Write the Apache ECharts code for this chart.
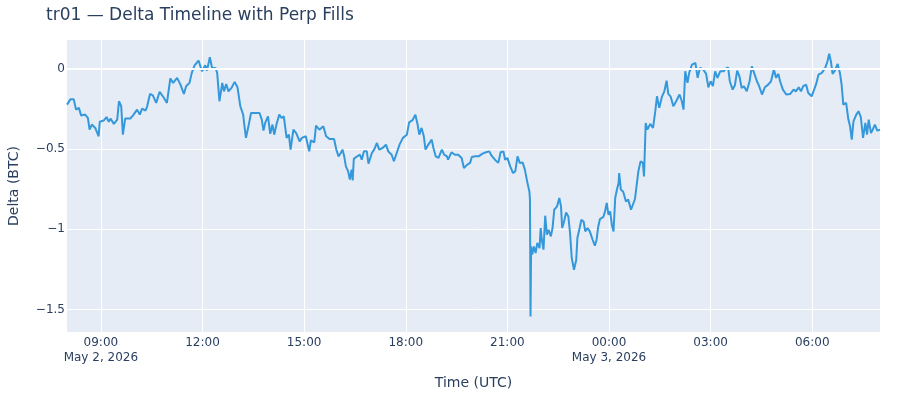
<!DOCTYPE html>
<html><head><meta charset="utf-8">
<script src="https://cdn.jsdelivr.net/npm/echarts@6/dist/echarts.min.js"></script>
<style>html,body{margin:0;padding:0;background:#fff}#c{width:900px;height:400px}</style>
</head><body><div id="c"></div>
<script>
// Start of series: 2026-05-02 08:00 UTC; minutes are offsets from it
const startUTC = Date.UTC(2026, 4, 2, 8, 0);
const minutes = [
0,6,12,16,21,25,32,37,40,44,
50,56,58,65,70,74,77,83,89,92,
96,99,102,103,112,118,124,129,133,139,
142,147,152,158,164,171,177,180,183,188,
195,201,207,211,217,221,226,233,239,245,
248,253,257,263,266,270,275,278,282,286,
292,297,302,307,312,314,317,322,326,334,
341,345,348,351,356,360,364,367,371,376,
380,384,389,393,396,401,406,412,416,423,
429,432,438,441,447,454,459,465,473,477,
481,485,488,491,494,498,501,504,506,508,
514,519,522,526,531,534,540,544,549,553,
559,565,569,575,579,584,589,595,602,606,
612,617,621,624,628,632,635,640,646,649,
653,658,664,668,673,675,681,687,693,699,
703,709,714,717,723,729,736,742,748,752,
758,764,768,773,776,780,785,790,794,798,
802,807,811,815,819,820,821,822,824,827,
830,833,837,839,841,844,847,850,853,857,
860,863,868,872,875,877,880,884,888,891,
894,898,902,904,908,911,915,918,922,926,
931,935,938,941,944,950,953,956,959,962,
965,968,971,974,977,978,981,985,990,994,
999,1002,1006,1009,1012,1016,1020,1022,1024,1025,
1028,1033,1038,1042,1045,1049,1054,1058,1062,1065,
1069,1074,1079,1085,1089,1092,1095,1099,1102,1107,
1113,1117,1121,1127,1132,1136,1140,1144,1148,1152,
1157,1163,1167,1171,1174,1179,1183,1187,1191,1195,
1199,1204,1209,1213,1217,1222,1226,1231,1236,1242,
1247,1250,1252,1256,1260,1263,1268,1274,1281,1287,
1291,1296,1300,1304,1309,1313,1319,1322,1327,1331,
1337,1343,1347,1350,1353,1356,1360,1365,1369,1372,
1375,1380,1384,1387,1390,1393,1398,1402,1406,1410,
1414,1417,1420,1424,1427,1431,1435,1440
];
const delta = [
-0.223,-0.19,-0.19,-0.254,-0.243,-0.29,-0.285,-0.306,-0.379,-0.347,
-0.368,-0.42,-0.33,-0.322,-0.30,-0.33,-0.31,-0.343,-0.316,-0.202,
-0.233,-0.41,-0.42,-0.31,-0.31,-0.285,-0.254,-0.285,-0.248,-0.26,
-0.233,-0.156,-0.165,-0.212,-0.143,-0.177,-0.212,-0.202,-0.06,-0.087,
-0.056,-0.098,-0.156,-0.108,-0.087,-0.025,0.022,0.052,-0.015,0.022,
-0.011,0.072,0.006,0.006,-0.025,-0.202,-0.087,-0.14,-0.094,-0.14,
-0.115,-0.081,-0.115,-0.233,-0.285,-0.347,-0.43,-0.347,-0.275,-0.275,
-0.275,-0.316,-0.385,-0.337,-0.296,-0.405,-0.347,-0.41,-0.347,-0.285,
-0.306,-0.296,-0.43,-0.41,-0.503,-0.379,-0.40,-0.452,-0.43,-0.42,
-0.514,-0.445,-0.458,-0.354,-0.379,-0.358,-0.42,-0.437,-0.437,-0.503,
-0.545,-0.524,-0.503,-0.545,-0.608,-0.639,-0.69,-0.628,-0.695,-0.561,
-0.545,-0.535,-0.566,-0.514,-0.514,-0.591,-0.524,-0.503,-0.462,-0.503,
-0.493,-0.472,-0.514,-0.535,-0.576,-0.524,-0.472,-0.43,-0.41,-0.333,
-0.32,-0.285,-0.347,-0.41,-0.368,-0.42,-0.503,-0.472,-0.441,-0.493,
-0.545,-0.555,-0.503,-0.535,-0.545,-0.566,-0.52,-0.535,-0.535,-0.555,
-0.618,-0.597,-0.586,-0.549,-0.545,-0.545,-0.528,-0.52,-0.514,-0.541,
-0.566,-0.586,-0.52,-0.514,-0.566,-0.555,-0.608,-0.649,-0.639,-0.545,
-0.586,-0.583,-0.628,-0.701,-0.764,-0.815,-1.543,-1.107,-1.158,-1.107,
-1.148,-1.085,-1.117,-0.992,-1.065,-1.127,-0.915,-1.034,-1.003,-1.044,
-0.992,-0.878,-0.857,-0.805,-0.857,-0.992,-0.957,-0.895,-0.92,-1.023,
-1.179,-1.252,-1.19,-1.054,-0.992,-0.94,-0.951,-1.013,-0.992,-1.013,
-1.065,-1.102,-1.065,-0.982,-0.936,-0.923,-0.888,-0.836,-0.909,-0.888,
-0.971,-1.013,-0.805,-0.753,-0.711,-0.649,-0.753,-0.764,-0.826,-0.815,
-0.878,-0.867,-0.811,-0.805,-0.639,-0.576,-0.586,-0.67,-0.45,-0.337,
-0.379,-0.343,-0.368,-0.264,-0.171,-0.243,-0.171,-0.14,-0.073,-0.156,
-0.171,-0.233,-0.202,-0.16,-0.202,-0.254,-0.015,-0.087,-0.025,0.027,
0.037,-0.056,0.006,-0.004,-0.031,-0.115,-0.077,-0.108,-0.015,-0.056,
-0.015,-0.015,0.002,0.01,-0.077,-0.129,-0.102,-0.011,-0.046,-0.119,
-0.108,-0.14,-0.077,0.016,-0.025,-0.077,-0.108,-0.16,-0.115,-0.098,
-0.077,-0.077,-0.004,-0.056,-0.031,-0.077,-0.129,-0.16,-0.156,-0.129,
-0.14,-0.115,-0.14,-0.108,-0.098,-0.15,-0.171,-0.177,-0.094,-0.036,
-0.025,0.006,0.047,0.094,0.047,-0.031,-0.011,0.031,-0.025,-0.098,
-0.223,-0.212,-0.316,-0.358,-0.441,-0.327,-0.285,-0.264,-0.30,-0.43,
-0.337,-0.41,-0.316,-0.40,-0.379,-0.347,-0.385,-0.379
];
// tick positions: hours after 2026-05-02 00:00 UTC
const xTickHours = [9, 12, 15, 18, 21, 24, 27, 30];
const yTicks = [-1.5, -1, -0.5, 0];
const monthNames = ['Jan','Feb','Mar','Apr','May','Jun','Jul','Aug','Sep','Oct','Nov','Dec'];

const dayStart = Date.UTC(2026, 4, 2, 0, 0);
const xTicks = xTickHours.map(h => dayStart + h * 3600000);
const seriesData = minutes.map((m, i) => [startUTC + m * 60000, delta[i]]);
const pad = n => (n < 10 ? '0' : '') + n;
const FONT = '"DejaVu Sans", Verdana, sans-serif';
const TXT = '#2a3f5f';

const chart = echarts.init(document.getElementById('c'), null, {renderer: 'canvas'});
chart.setOption({
  animation: false,
  backgroundColor: '#ffffff',
  textStyle: {fontFamily: FONT, color: TXT},
  title: {
    text: 'tr01 \u2014 Delta Timeline with Perp Fills',
    left: 41, top: 2,
    textStyle: {fontFamily: FONT, fontSize: 17, fontWeight: 'normal', color: TXT}
  },
  grid: {left: 67, right: 20, top: 40, bottom: 68, containLabel: false,
         outerBoundsMode: 'none',
         show: true, backgroundColor: '#E5ECF6', borderWidth: 0},
  xAxis: {
    type: 'value',
    min: startUTC, max: startUTC + minutes[minutes.length - 1] * 60000,
    name: 'Time (UTC)', nameLocation: 'middle', nameGap: 44,
    nameTextStyle: {fontFamily: FONT, fontSize: 14, color: TXT},
    axisLine: {show: false},
    axisTick: {show: false, customValues: xTicks},
    splitLine: {show: true, lineStyle: {color: '#ffffff', width: 1}},
    axisLabel: {
      customValues: xTicks,
      fontFamily: FONT, fontSize: 12, color: TXT, margin: 3, lineHeight: 15,
      formatter: function (v) {
        const d = new Date(v);
        let s = pad(d.getUTCHours()) + ':' + pad(d.getUTCMinutes());
        if (v === xTicks[0] || d.getUTCHours() === 0) {
          s += '\n' + monthNames[d.getUTCMonth()] + ' ' + d.getUTCDate() + ', ' + d.getUTCFullYear();
        }
        return s;
      }
    }
  },
  yAxis: {
    type: 'value',
    min: -1.64, max: 0.18,
    name: 'Delta (BTC)', nameLocation: 'middle', nameGap: 46, nameRotate: 90,
    nameTextStyle: {fontFamily: FONT, fontSize: 14, color: TXT},
    axisLine: {show: false},
    axisTick: {show: false, customValues: yTicks},
    splitLine: {show: true, lineStyle: {color: '#ffffff', width: 1}},
    axisLabel: {
      customValues: yTicks,
      fontFamily: FONT, fontSize: 12, color: TXT, margin: 2,
      formatter: v => (v === 0 ? '0' : String(v).replace('-', '\u2212'))
    }
  },
  series: [
    {
      type: 'line', data: [], z: 1, silent: true,
      markLine: {silent: true, symbol: 'none', label: {show: false},
        lineStyle: {color: '#ffffff', width: 2, type: 'solid'},
        data: [{yAxis: 0}]}
    },
    {
      type: 'line', data: seriesData, z: 3,
      showSymbol: false, symbol: 'none',
      lineStyle: {color: '#3498db', width: 2},
      emphasis: {disabled: true}
    }
  ]
});
</script>
</body></html>
